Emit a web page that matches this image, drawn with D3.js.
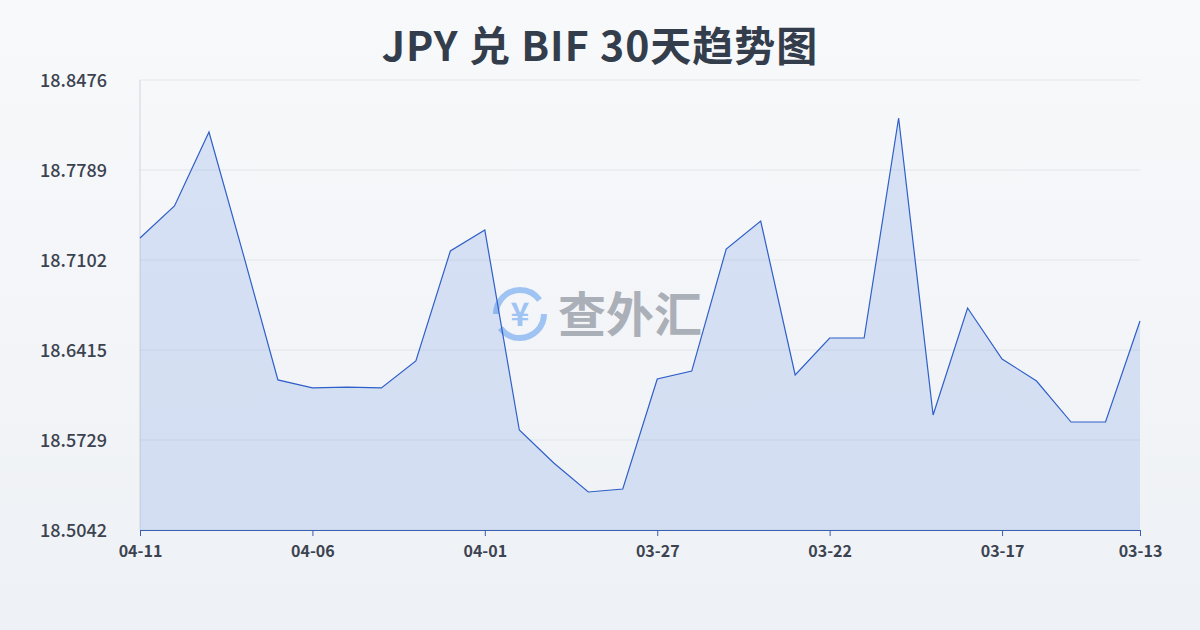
<!DOCTYPE html>
<html><head><meta charset="utf-8">
<script src="https://cdn.jsdelivr.net/npm/d3@7"></script>
<style>body{margin:0}svg{display:block}</style></head>
<body><svg id="c" width="1200" height="630"></svg>
<script>
const dates=["04-11","04-10","04-09","04-08","04-07","04-06","04-05","04-04","04-03","04-02","04-01","03-31","03-30","03-29","03-28","03-27","03-26","03-25","03-24","03-23","03-22","03-21","03-20","03-19","03-18","03-17","03-16","03-15","03-14","03-13"];
const values=[18.7270,18.7515,18.8079,18.7141,18.6187,18.6126,18.6133,18.6126,18.6332,18.7171,18.7331,18.5805,18.5553,18.5332,18.5355,18.6194,18.6255,18.7186,18.7400,18.6225,18.6507,18.6507,18.8186,18.5920,18.6736,18.6347,18.6179,18.5866,18.5866,18.6637];
const yTicks=[18.5042,18.5729,18.6415,18.7102,18.7789,18.8476];
const xTicks=["04-11","04-06","04-01","03-27","03-22","03-17","03-13"];
const title="JPY 兑 BIF 30天趋势图";

const svg=d3.select("#c");
const defs=svg.append("defs");
const bg=defs.append("linearGradient").attr("id","bg").attr("x1",0).attr("y1",0).attr("x2",0).attr("y2",1);
bg.append("stop").attr("offset","0").attr("stop-color","#f8f9fb");
bg.append("stop").attr("offset","1").attr("stop-color","#eef1f5");
svg.append("rect").attr("width",1200).attr("height",630).attr("fill","url(#bg)");
const x=d3.scalePoint().domain(dates).range([140,1140]);
const y=d3.scaleLinear().domain([18.5042,18.8476]).range([530,80]);
const font="'Noto Sans CJK SC','Noto Sans',sans-serif";
svg.append("text").attr("x",600).attr("y",61).attr("text-anchor","middle").attr("font-family",font).attr("font-weight","bold").attr("font-size",41).attr("letter-spacing",1).attr("fill","#333d4c").text(title);
svg.append("g").selectAll("line").data(yTicks).join("line").attr("x1",140).attr("x2",1140).attr("y1",d=>y(d)).attr("y2",d=>y(d)).attr("stroke","#e3e6ea");
svg.append("g").selectAll("text").data(yTicks).join("text").attr("x",40).attr("y",d=>y(d)+7).attr("font-family",font).attr("font-size",18).attr("font-weight",500).attr("fill","#3c4350").text(d=>d.toFixed(4));
svg.append("line").attr("x1",140).attr("x2",140).attr("y1",80).attr("y2",530).attr("stroke","#cfd4dc");
const wm=svg.append("g").attr("opacity",0.55);
wm.append("circle").attr("cx",520).attr("cy",314).attr("r",24).attr("fill","none").attr("stroke","#5b9bef").attr("stroke-width",6).attr("stroke-dasharray","60 15");
wm.append("text").attr("x",520).attr("y",326).attr("text-anchor","middle").attr("font-family",font).attr("font-weight","bold").attr("font-size",32).attr("fill","#5b9bef").text("¥");
wm.append("text").attr("x",558).attr("y",332).attr("font-family",font).attr("font-weight","bold").attr("font-size",48).attr("fill","#6f7785").text("查外汇");
const area=d3.area().x(d=>x(d[0])).y0(530).y1(d=>y(d[1]));
const line=d3.line().x(d=>x(d[0])).y(d=>y(d[1]));
const pts=dates.map((d,i)=>[d,values[i]]);
svg.append("path").attr("d",area(pts)).attr("fill","rgba(80,130,220,0.18)");
svg.append("path").attr("d",line(pts)).attr("fill","none").attr("stroke","#2f5fc8").attr("stroke-width",1.2);
const ax=svg.append("g").attr("transform","translate(0,530)").call(d3.axisBottom(x).tickValues(xTicks).tickSize(6).tickSizeOuter(0));
ax.select(".domain").attr("stroke","#3a5fb0");
ax.selectAll(".tick line").attr("stroke","#3a5fb0");
ax.selectAll("text").attr("font-family",font).attr("font-size",16).attr("font-weight","bold").attr("fill","#3c4350").attr("dy","1.1em");
</script></body></html>
